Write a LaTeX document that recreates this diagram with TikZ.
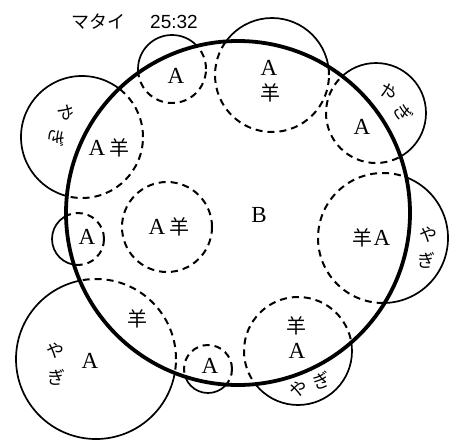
\documentclass[tikz,border=0pt]{standalone}
\usepackage{fontspec}
\setmainfont{Liberation Serif}
\newfontfamily\cjk{Noto Sans CJK JP}
\newfontfamily\digitfont{Liberation Sans}
\begin{document}
\begin{tikzpicture}[x=1pt,y=-1pt,
  bigring/.style={line width=3.8pt},
  outerarc/.style={line width=1.7pt},
  innerarc/.style={line width=2pt, dash pattern=on 7pt off 5pt},
  lat/.style={font=\fontsize{23}{23}\selectfont, inner sep=0pt},
  kan/.style={font=\cjk\fontsize{20}{20}\selectfont, inner sep=0pt},
  goat/.style={font=\cjk\fontsize{18}{18}\selectfont, inner sep=0pt, align=center},
  ttl/.style={inner sep=0pt},
]
\useasboundingbox (0,0) rectangle (449,439);
\coordinate (O) at (238,213);
\def\R{172pt}
\def\circlelist{172/69/34, 272/75/57, 376/113/50, 383/238/65, 298/351/54, 208/369/24, 96/359/80, 78/239/26, 82/137/61, 167/227/45}
% dashed parts inside the big circle
\begin{scope}
  \clip (O) circle (\R);
  \foreach \x/\y/\r in \circlelist {\draw[innerarc] (\x,\y) circle (\r pt);}
\end{scope}
% solid parts outside the big circle
\begin{scope}[even odd rule]
  \clip (-20,-20) rectangle (470,460) (O) circle (\R);
  \foreach \x/\y/\r in \circlelist {\draw[outerarc] (\x,\y) circle (\r pt);}
\end{scope}
\draw[bigring] (O) circle (\R);

% title
\node[ttl, font=\cjk\fontsize{18}{18}\selectfont] (t1) at (98,22) {マタイ};
\node[ttl, font=\digitfont\fontsize{19}{19}\selectfont] (t2) at (174,22) {25:32};

% labels
\node[lat] (a1) at (176,76) {A};
\node[lat] (a2) at (269,68) {A};
\node[kan] (s2) at (270,93) {羊};
\node[lat] (a3) at (362,127) {A};
\node[goat, rotate=-55] (g3a) at (388,92) {や};
\node[goat, rotate=-55] (g3b) at (403,113) {ぎ};
\node[kan] (s4) at (362,238) {羊};
\node[lat] (a4) at (382,238) {A};
\node[goat] (g4a) at (428,235) {や};
\node[goat] (g4b) at (426,260) {ぎ};
\node[kan] (s5) at (296,326) {羊};
\node[lat] (a5) at (297,351) {A};
\node[goat, rotate=20] (g5a) at (299,389) {や};
\node[goat, rotate=20] (g5b) at (322,381) {ぎ};
\node[lat] (a6) at (210,366) {A};
\node[kan] (s7) at (137,319) {羊};
\node[lat] (a7) at (90,361) {A};
\node[goat] (g7a) at (55,351) {や};
\node[goat] (g7b) at (56,377) {ぎ};
\node[lat] (a8) at (87,237) {A};
\node[lat] (a9) at (97,148) {A};
\node[kan] (s9) at (119,148) {羊};
\node[goat, rotate=-100] (g9a) at (66,113) {や};
\node[goat, rotate=-100] (g9b) at (57,138) {ぎ};
\node[lat] (a10) at (157,227) {A};
\node[kan] (s10) at (179,227) {羊};
\node[lat] (b) at (259,215) {B};
\end{tikzpicture}
\end{document}
